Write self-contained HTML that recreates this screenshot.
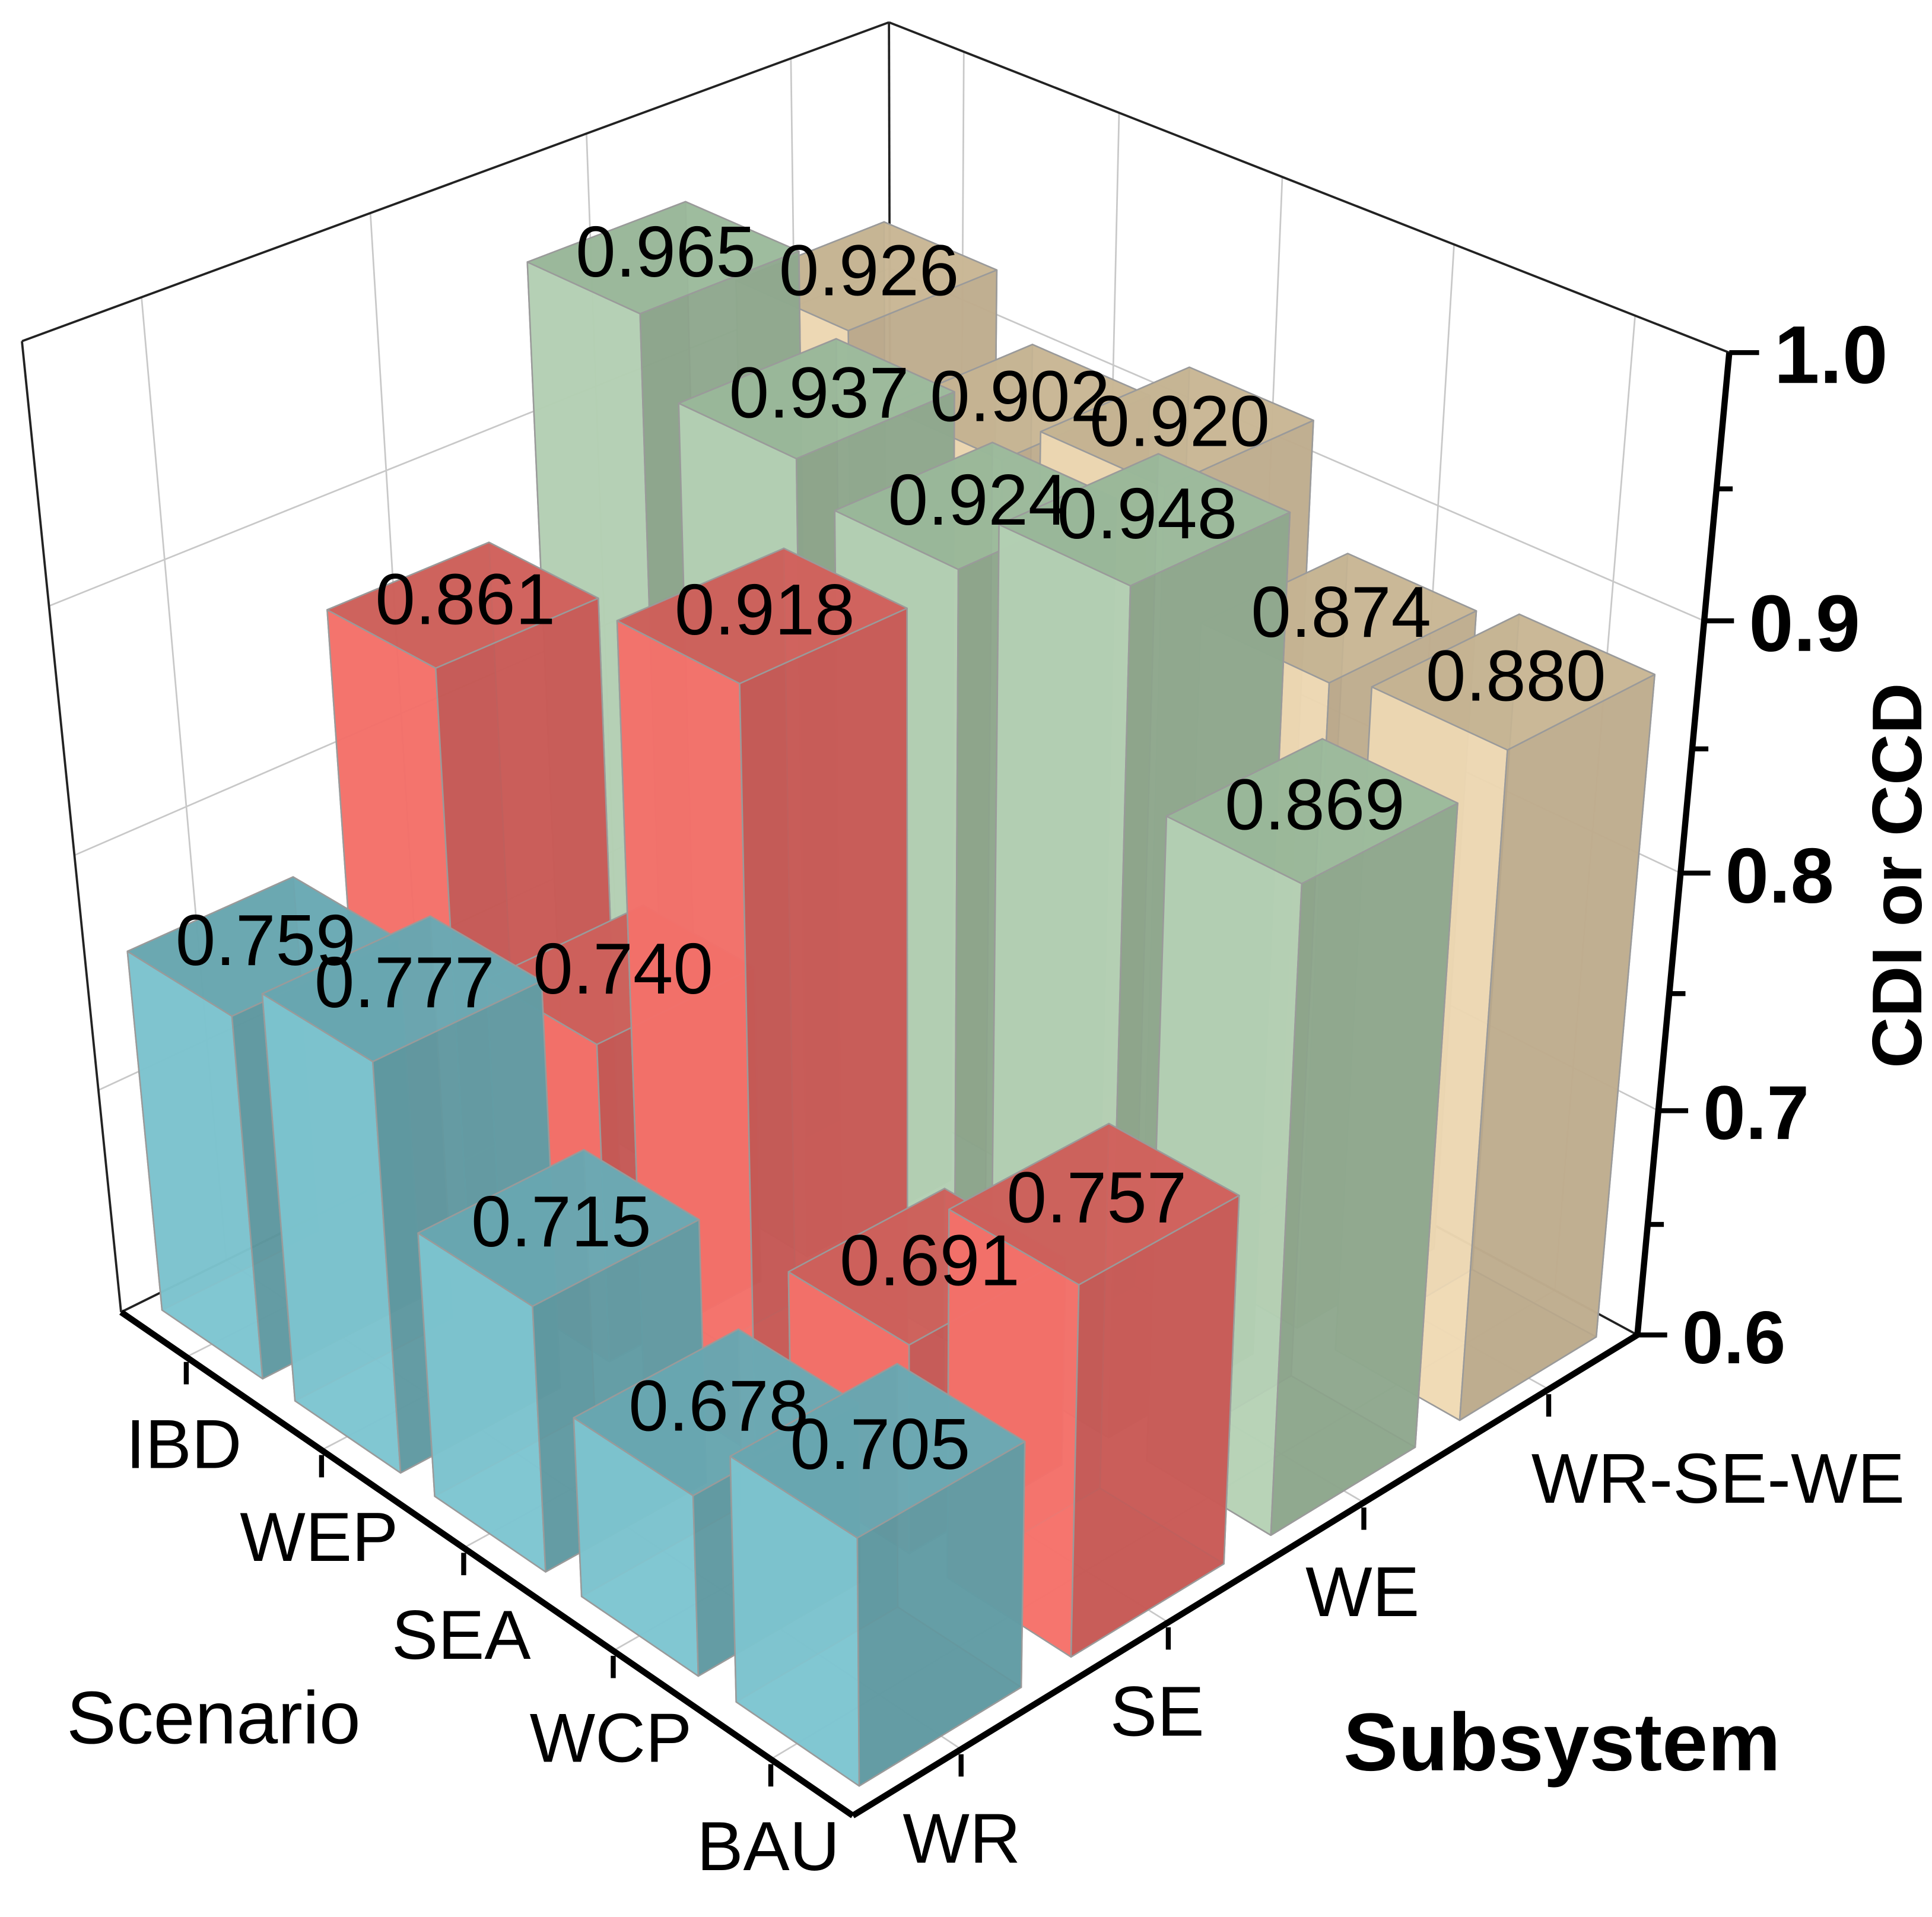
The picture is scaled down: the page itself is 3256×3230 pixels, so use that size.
<!DOCTYPE html>
<html><head><meta charset="utf-8"><title>CDI or CCD 3D bar chart</title>
<style>
html,body{margin:0;padding:0;background:#fff;}
svg{display:block;}
text{font-family:"Liberation Sans",Arial,sans-serif;fill:#000;}
</style></head>
<body>
<svg id="chart" xmlns="http://www.w3.org/2000/svg" width="3256" height="3230" viewBox="0 0 1556 1543.6" preserveAspectRatio="none">
<rect x="0" y="0" width="1556" height="1544" fill="#fff"/>
<g id="grid"></g>
<g id="box"></g>
<g id="bars"></g>
<g id="axes"></g>
<g id="labels"></g>
</svg>
<script>
const scenarios=['IBD','WEP','SEA','WCP','BAU'];
const subsystems=['WR','SE','WE','WR-SE-WE'];
const wrValues=[0.759,0.777,0.715,0.678,0.705];
const seValues=[0.861,0.740,0.918,0.691,0.757];
const weValues=[0.965,0.937,0.924,0.948,0.869];
const wsweValues=[0.926,0.902,0.920,0.874,0.880];
const zTicks=[0.6,0.7,0.8,0.9,1.0];
const zTickLabels=['0.6','0.7','0.8','0.9','1.0'];
const zMin=0.6, zMax=1.0;

const NS='http://www.w3.org/2000/svg';
const calib=[
 [0,0,0,97,1055],[0,0,1,17,275],[1,0,0,688,1462],[1,1,0,1318,1076],
 [1,1,1,1392,285],[0,1,1,717,18],[0,0,0.5,60,690],[1,1,0.5,1353,703],
 [1,1,0.25,1336,895],[1,1,0.75,1373,497]
];
function solveDLT(pts){
  const A=[],b=[];
  pts.forEach(p=>{const[X,Y,Z,u,v]=p;
    A.push([X,Y,Z,1,0,0,0,0,-u*X,-u*Y,-u*Z]);b.push(u);
    A.push([0,0,0,0,X,Y,Z,1,-v*X,-v*Y,-v*Z]);b.push(v);});
  const n=11,M=[];
  for(let i=0;i<n;i++){M.push([]);for(let j=0;j<=n;j++){let s=0;
    for(let k=0;k<A.length;k++)s+=A[k][i]*(j<n?A[k][j]:b[k]);M[i].push(s);}}
  for(let c=0;c<n;c++){let pv=c;for(let r=c+1;r<n;r++)if(Math.abs(M[r][c])>Math.abs(M[pv][c]))pv=r;
    [M[c],M[pv]]=[M[pv],M[c]];
    for(let r=0;r<n;r++){if(r===c)continue;const f=M[r][c]/M[c][c];for(let j=c;j<=n;j++)M[r][j]-=f*M[c][j];}}
  return M.map((r,i)=>r[n]/r[i]);
}
const P=solveDLT(calib);
function proj(X,Y,Z){const w=P[8]*X+P[9]*Y+P[10]*Z+1;
  return [(P[0]*X+P[1]*Y+P[2]*Z+P[3])/w,(P[4]*X+P[5]*Y+P[6]*Z+P[7])/w];}
function zw(v){return (v-zMin)/(zMax-zMin);}
function sPos(i){return (i+0.5)/scenarios.length;}
function tPos(j){return (j+0.5)/subsystems.length;}
function mk(tag,attrs,parent){const e=document.createElementNS(NS,tag);for(const k in attrs)e.setAttribute(k,attrs[k]);parent.appendChild(e);return e;}
function line(g,a,b,stroke,w){return mk('line',{x1:a[0],y1:a[1],x2:b[0],y2:b[1],stroke:stroke,'stroke-width':w},g);}

const grid=document.getElementById('grid');
const gc='#c8c8c8';
for(let i=0;i<scenarios.length;i++){const s=sPos(i);
 const l=line(grid,proj(s,0,0),proj(s,1,0),gc,1.3);
 
 
 const w=line(grid,proj(s,1,0),proj(s,1,1),gc,1.3);
 
 }
for(let j=0;j<subsystems.length;j++){const t=tPos(j);
 const l=line(grid,proj(0,t,0),proj(1,t,0),gc,1.3);
 
 
 const w=line(grid,proj(0,t,0),proj(0,t,1),gc,1.3);
 
 }
[0.7,0.8,0.9].forEach(z=>{
 const a=line(grid,proj(0,0,zw(z)),proj(0,1,zw(z)),gc,1.3);
 
 
 const b=line(grid,proj(0,1,zw(z)),proj(1,1,zw(z)),gc,1.3);
 
 
});
const box=document.getElementById('box');
[[[0,0,0],[0,0,1]],[[0,0,1],[0,1,1]],[[0,1,1],[1,1,1]],[[0,1,0],[0,1,1]],[[0,0,0],[0,1,0]],[[0,1,0],[1,1,0]]].forEach(e=>{
 const l=line(box,proj(...e[0]),proj(...e[1]),'#222',1.8);
 
 
});

const series=[
 {vals:wrValues,name:'wr',left:'#80c7d3',right:'#5f98a0',top:'#69a7b1',back:'#6fb3bf'},
 {vals:seValues,name:'se',left:'#f8736c',right:'#c45955',top:'#cd615b',back:'#e0665f'},
 {vals:weValues,name:'we',left:'#b7d4b7',right:'#8ca48b',top:'#9ab89a',back:'#a6c3a5'},
 {vals:wsweValues,name:'wr-se-we',left:'#f1dcb6',right:'#baa98b',top:'#c6b493',back:'#dac7a4'}
];
const hs=0.4*(1/scenarios.length)*0.95, ht=0.4*(1/subsystems.length)*0.95;
const order=[];
for(let i=0;i<scenarios.length;i++)for(let j=subsystems.length-1;j>=0;j--)order.push([i,j]);
const barsG=document.getElementById('bars');
const labelsG=document.getElementById('labels');
function poly(g,pts,fill,op){return mk('polygon',{points:pts.map(p=>p[0].toFixed(1)+','+p[1].toFixed(1)).join(' '),fill:fill,'fill-opacity':op,stroke:'#9a9a9a','stroke-width':1.2,'stroke-linejoin':'round'},g);}
order.forEach(([i,j])=>{
 const sr=series[j],v=sr.vals[i];
 const s=sPos(i),t=tPos(j),Z=zw(v);
 const s0=s-hs,s1=s+hs,t0=t-ht,t1=t+ht;
 const g=mk('g',{},barsG);
 
 
 const c=(a,b,z)=>proj(a,b,z);
 poly(g,[c(s0,t0,0),c(s0,t1,0),c(s1,t1,0),c(s1,t0,0)],sr.back,0.8);
 poly(g,[c(s0,t0,0),c(s0,t1,0),c(s0,t1,Z),c(s0,t0,Z)],sr.right,0.8);
 poly(g,[c(s0,t1,0),c(s1,t1,0),c(s1,t1,Z),c(s0,t1,Z)],sr.left,0.8);
 poly(g,[c(s0,t0,0),c(s1,t0,0),c(s1,t0,Z),c(s0,t0,Z)],sr.left,0.88);
 poly(g,[c(s1,t0,0),c(s1,t1,0),c(s1,t1,Z),c(s1,t0,Z)],sr.right,0.9);
 poly(g,[c(s0,t0,Z),c(s1,t0,Z),c(s1,t1,Z),c(s0,t1,Z)],sr.top,0.92);
 const tc=proj(s,t,Z);
 const tx=mk('text',{x:(tc[0]+2).toFixed(1),y:(tc[1]-4).toFixed(1),'font-size':58,'text-anchor':'middle','dominant-baseline':'central'},labelsG);
 
 
 tx.textContent=v.toFixed(3);
});

const ax=document.getElementById('axes');
const al1=line(ax,proj(0,0,0),proj(1,0,0),'#000',5);


const al2=line(ax,proj(1,0,0),proj(1,1,0),'#000',5);


const al3=line(ax,proj(1,1,0),proj(1,1,1),'#000',5);


scenarios.forEach((nm,i)=>{
 const p=proj(sPos(i),0,0);
 const tk=line(ax,[p[0],p[1]+4],[p[0],p[1]+22],'#000',4);
 
 
 const tx=mk('text',{x:p[0]-2,y:p[1]+70,'font-size':56,'text-anchor':'middle','dominant-baseline':'central'},ax);
 
 
 tx.textContent=nm;
});
subsystems.forEach((nm,j)=>{
 const p=proj(1,tPos(j),0);
 const tk=line(ax,[p[0],p[1]+4],[p[0],p[1]+22],'#000',4);
 
 
 const tx=mk('text',{x:p[0]-(j===3?14:47),y:p[1]+72,'font-size':57,'text-anchor':'start','dominant-baseline':'central'},ax);
 
 
 tx.textContent=nm;
});
for(let k=0;k<zTicks.length;k++){
 const p=proj(1,1,zw(zTicks[k]));
 const tk=line(ax,p,[p[0]+24,p[1]],'#000',4);
 
 
 const tx=mk('text',{x:p[0]+36,y:p[1]+2,'font-size':60+k*1.5,'font-weight':'bold','text-anchor':'start','dominant-baseline':'central'},ax);
 
 
 tx.textContent=zTickLabels[k];
 if(k<zTicks.length-1){
  const m=proj(1,1,zw((zTicks[k]+zTicks[k+1])/2));
  const mt=line(ax,m,[m[0]+13,m[1]],'#000',4);
  
  
 }
}
</script>
<svg style="position:absolute;left:0;top:0" width="3256" height="3230" viewBox="0 0 1556 1543.6" preserveAspectRatio="none">
<text x="172" y="1383" font-size="60" text-anchor="middle" dominant-baseline="central" style="font-family:'Liberation Sans',sans-serif">Scenario</text>
<text x="1258" y="1403" font-size="66" font-weight="bold" text-anchor="middle" dominant-baseline="central" style="font-family:'Liberation Sans',sans-serif">Subsystem</text>
<text x="1528" y="705" font-size="57" font-weight="bold" text-anchor="middle" dominant-baseline="central" transform="rotate(-90 1528 705)" style="font-family:'Liberation Sans',sans-serif">CDI or CCD</text>
</svg>
</body></html>
